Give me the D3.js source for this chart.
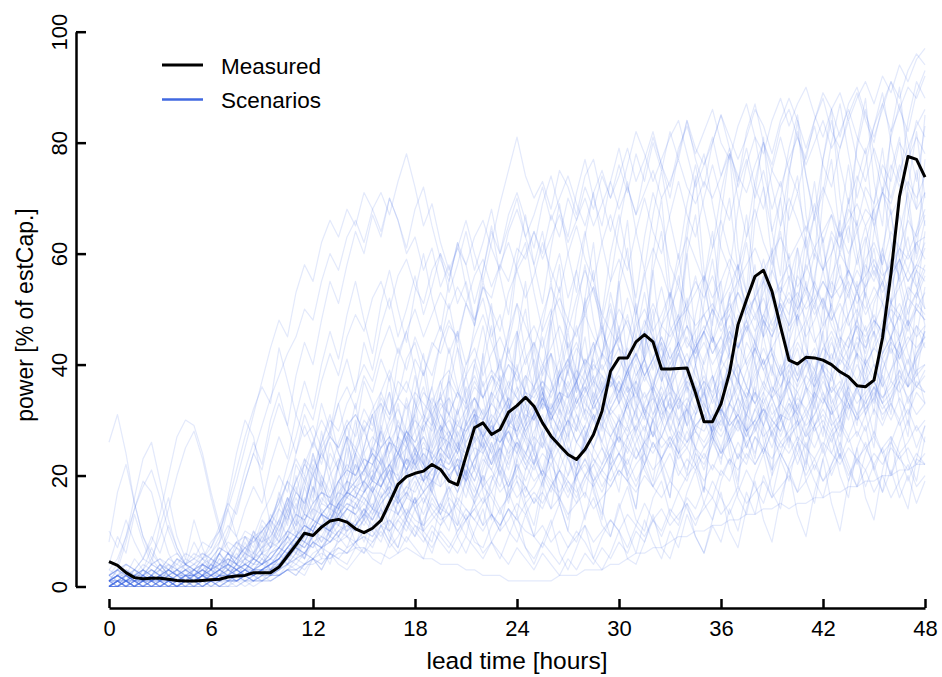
<!DOCTYPE html>
<html><head><meta charset="utf-8">
<script src="https://cdn.jsdelivr.net/npm/d3@7"></script>
<style>html,body{margin:0;padding:0;background:#fff;} svg{display:block;font-family:"Liberation Sans",Arial,Helvetica,sans-serif;}</style>
</head><body><svg id="chart" width="942" height="677"></svg>
<script>
const stepHours = 0.5;
const xTicks = [0, 6, 12, 18, 24, 30, 36, 42, 48];
const yTicks = [0, 20, 40, 60, 80, 100];
const xTitle = "lead time [hours]";
const yTitle = "power [% of estCap.]";
const legendLabels = ["Measured", "Scenarios"];

const measured = [
4.5,3.8,2.5,1.6,1.4,1.5,1.5,1.3,1.1,1.0,
1.0,1.1,1.2,1.3,1.7,1.9,2.0,2.5,2.5,2.5,
3.5,5.5,7.5,9.6,9.2,10.7,11.8,12.1,11.6,10.4,
9.7,10.5,11.9,15.1,18.4,19.8,20.4,20.8,22.0,21.1,
19.0,18.3,23.5,28.6,29.5,27.4,28.3,31.4,32.6,34.1,
32.5,29.5,27.1,25.4,23.8,22.9,24.7,27.4,31.6,38.8,
41.2,41.2,44.1,45.4,44.1,39.2,39.2,39.3,39.4,34.9,
29.7,29.7,32.9,38.5,47.2,51.7,55.9,57.0,53.2,46.9,
40.8,40.1,41.3,41.2,40.8,40.0,38.7,37.8,36.2,36.0,
37.2,44.8,56.5,70.3,77.5,77.0,73.8];

const scenarios = [
[1,2,1,0,1,1,2,1,0,1, 1,0,1,2,1,1,2,3,2,4, 5,7,6,9,11,8,10,14,12,15, 13,17,20,16,19,23,20,17,22,25, 23,20,26,29,24,28,31,26,24,29, 32,27,24,30,35,31,26,33,37,32, 35,39,33,30,36,41,37,32,38,43, 39,34,41,45,40,36,43,48,42,38, 44,49,43,39,46,51,45,41,48,53, 48,44,51,56,49,53,57],
[0,0,1,0,0,1,0,0,0,1, 0,0,1,0,0,1,1,0,1,1, 2,3,2,4,5,3,6,5,4,7, 6,8,10,7,9,12,10,8,11,9, 7,10,13,9,6,8,11,14,10,7, 5,8,6,4,7,10,8,5,9,12, 10,7,11,15,12,9,13,17,14,11, 15,19,16,13,17,21,18,15,20,24, 21,17,23,19,16,22,26,22,18,24, 28,24,20,26,30,25,29],
[2,3,2,1,2,3,2,1,2,3, 2,1,2,3,4,3,5,4,6,7, 10,13,17,15,20,24,21,26,30,27, 32,29,35,39,34,41,44,38,43,47, 42,46,40,45,49,44,39,46,51,47, 43,49,54,50,46,52,57,53,48,55, 59,54,49,56,61,57,52,58,63,59, 55,61,66,60,57,63,68,62,58,65, 70,66,61,67,72,68,63,69,74,70, 65,71,76,72,77,81,78],
[26,31,24,15,9,6,4,3,2,2, 2,1,1,0,1,2,1,2,3,5, 4,6,8,7,10,9,12,11,14,13, 16,14,18,21,17,20,23,19,24,22, 26,22,19,23,27,24,20,25,29,26, 22,27,31,28,24,29,34,30,26,32, 35,31,28,33,37,34,30,36,40,36, 32,37,41,38,34,39,43,39,35,40, 34,30,36,29,33,38,34,30,36,40, 37,33,39,44,38,42,46],
[0,1,2,1,0,1,2,3,2,1, 2,4,3,6,9,14,19,24,29,34, 38,42,45,50,48,55,60,57,63,66, 62,68,71,67,73,78,72,65,69,62, 57,61,66,60,55,62,69,75,81,74, 70,73,68,75,72,67,74,77,70,64, 70,76,82,78,73,77,81,84,78,72, 76,80,85,81,77,81,86,83,78,84, 88,84,79,84,89,86,81,87,90,85, 81,86,91,88,93,96,94],
[0,1,0,0,1,0,1,0,0,1, 1,0,1,1,2,1,2,1,2,3, 3,5,4,6,8,7,9,11,10,12, 14,12,15,17,13,16,19,15,18,21, 20,17,22,19,24,21,18,23,26,22, 25,21,27,24,20,26,29,25,22,27, 24,20,25,21,18,23,26,21,19,24, 22,26,23,27,30,25,29,32,27,24, 29,33,28,31,35,30,27,32,36,31, 34,38,33,37,41,36,39],
[1,2,1,2,1,1,2,1,1,2, 1,2,2,3,2,3,4,3,4,5, 7,9,12,10,14,17,15,19,22,20, 24,27,25,29,32,28,31,35,33,37, 39,35,40,43,38,42,45,41,39,44, 47,43,49,52,48,45,51,54,49,46, 50,47,43,48,45,41,46,49,44,42, 46,50,47,52,55,51,48,53,57,53, 56,52,58,54,51,56,60,57,53,59, 62,58,64,61,66,63,67],
[0,0,0,0,0,0,0,0,0,0, 0,0,0,0,0,0,1,1,1,2, 2,3,3,4,4,5,5,6,6,7, 7,6,6,5,6,7,6,5,5,4, 4,4,3,3,2,2,2,1,1,1, 1,1,1,2,2,2,3,3,3,4, 4,5,6,6,7,7,8,9,9,10, 10,11,11,12,12,13,13,14,14,15, 14,15,15,16,16,17,17,18,18,19, 19,20,20,21,21,22,22],
[3,2,4,3,2,4,5,3,2,3, 4,3,5,4,6,5,7,6,8,9, 12,15,19,22,20,24,27,25,29,31, 28,32,35,31,34,37,33,30,34,31, 28,25,29,32,27,24,28,31,27,30, 33,36,32,38,41,37,40,44,39,42, 45,41,47,50,46,49,53,48,51,55, 52,56,51,54,58,53,49,52,47,50, 46,49,45,48,52,47,44,49,53,50, 54,51,56,59,55,58,62],
[0,0,1,0,0,0,1,0,1,0, 1,1,0,1,2,1,2,1,2,2, 3,4,6,5,8,7,10,9,12,11, 14,12,16,18,15,17,20,17,19,22, 21,24,20,23,26,22,25,28,24,21, 24,20,17,21,18,15,19,22,18,21, 24,27,23,26,30,27,31,34,29,32, 35,31,29,33,37,34,38,41,36,33, 37,40,36,39,35,32,36,33,30,34, 37,33,30,34,31,35,33],
[2,1,2,3,2,1,2,1,2,3, 2,3,2,3,4,3,4,5,4,6, 7,6,9,11,10,13,12,15,17,16, 19,22,20,24,27,25,28,31,29,33, 31,35,32,36,34,38,35,32,36,33, 30,34,31,28,32,29,26,30,33,29, 26,29,25,22,26,23,27,24,21,25, 23,27,24,28,31,27,30,34,30,28, 32,35,31,34,38,33,36,40,37,41, 38,42,45,41,44,47,45],
[1,0,1,1,2,1,0,1,1,2, 1,2,1,2,2,3,2,3,3,4, 5,6,8,7,9,11,10,13,15,14, 17,20,18,22,25,21,24,22,19,23, 20,17,21,18,15,19,22,18,21,24, 22,26,23,27,30,26,24,28,31,27, 30,34,31,28,33,36,32,35,38,34, 37,33,36,40,37,34,39,43,39,36, 40,44,41,38,43,46,42,45,48,44, 47,51,48,45,50,53,50],
[2,4,9,16,23,26,19,12,7,4, 3,2,3,4,3,2,3,4,4,5, 7,9,11,13,12,15,14,17,19,18, 21,19,23,26,24,27,25,22,26,29, 27,30,26,29,32,28,31,34,30,33, 36,32,35,39,34,37,41,37,40,36, 39,43,38,41,45,41,44,48,43,46, 49,45,42,46,43,47,44,40,43,39, 42,38,41,37,40,44,40,43,47,43, 46,42,45,49,46,50,48],
[0,0,0,1,0,0,0,1,0,0, 0,1,0,1,1,0,1,1,2,1, 2,3,2,4,5,4,6,5,7,8, 9,8,11,10,12,14,12,11,13,15, 13,16,14,12,15,17,14,16,19,16, 18,21,19,17,20,23,20,22,25,22, 24,22,26,29,25,27,31,27,25,29, 28,31,28,33,30,27,32,35,31,33, 36,32,35,38,34,31,35,38,35,37, 40,36,39,42,38,41,44],
[1,2,1,2,3,2,1,2,3,2, 3,2,3,4,5,4,6,5,7,8, 11,15,19,23,21,26,30,28,33,36, 40,37,43,47,42,46,50,45,49,53, 50,54,51,56,59,54,58,62,57,60, 64,59,63,67,62,66,70,65,69,73, 68,72,67,71,75,70,73,77,72,69, 73,70,74,78,74,71,76,80,75,72, 77,81,76,80,84,79,82,86,81,78, 83,87,82,86,90,88,92],
[0,1,0,1,0,1,1,0,1,1, 1,2,1,2,2,3,2,3,3,4, 6,8,10,9,12,11,13,12,14,16, 15,18,16,19,17,20,22,19,21,24, 22,25,23,27,25,28,26,29,31,28, 31,34,30,33,36,32,35,38,34,37, 35,39,42,38,41,45,41,44,40,43, 46,42,45,41,44,40,43,39,42,38, 41,37,40,36,39,35,37,33,36,32, 34,31,33,29,32,28,30],
[1,1,2,1,1,2,1,1,1,2, 1,2,2,1,2,2,3,2,3,3, 4,5,7,6,8,7,9,8,10,11, 13,15,12,14,16,13,15,17,14,12, 13,11,14,12,10,13,11,14,12,15, 17,15,18,21,19,16,20,23,20,18, 21,19,17,20,18,16,19,17,20,22, 19,22,20,23,21,24,22,25,23,26, 24,27,25,23,26,24,22,25,23,21, 24,22,25,23,21,24,22],
[2,3,4,3,5,4,3,5,6,4, 5,6,5,7,6,8,7,9,10,12, 15,19,17,22,26,23,27,25,29,31, 28,31,33,30,34,32,35,33,31,34, 37,34,38,41,36,39,37,40,38,35, 32,29,33,30,27,31,28,25,29,27, 30,28,32,35,31,34,37,33,36,34, 37,35,39,42,38,41,44,40,43,46, 42,45,48,44,47,50,46,49,53,49, 52,55,51,54,57,54,58],
[0,1,0,0,1,1,0,1,0,1, 1,1,2,1,2,2,1,2,3,2, 3,5,7,6,9,11,10,13,15,14, 17,19,18,21,24,22,25,27,24,28, 30,27,31,34,30,33,36,32,35,38, 36,39,42,38,41,44,40,43,46,42, 45,48,44,47,51,47,50,54,50,53, 56,52,55,59,55,58,61,57,60,63, 59,62,65,61,64,67,63,66,69,65, 68,71,67,70,73,70,74],
[1,2,1,1,2,1,2,2,1,2, 2,3,2,3,4,3,4,3,4,5, 6,8,7,10,12,11,14,13,16,18, 17,20,22,19,23,25,22,24,21,23, 20,22,19,21,18,20,17,19,16,18, 15,17,14,16,13,15,17,14,16,18, 21,19,22,24,21,23,26,23,25,22, 25,27,24,26,29,26,28,31,28,30, 27,29,32,29,31,28,30,33,30,32, 35,32,34,37,34,36,38],
[1,2,1,2,3,2,1,2,3,4, 5,4,6,9,16,24,30,27,19,11, 8,12,16,13,18,15,20,23,19,24, 21,25,28,24,30,26,22,28,33,29, 25,31,36,30,27,34,38,33,29,36, 41,35,31,38,44,39,35,42,47,41, 46,52,45,41,48,54,47,43,50,56, 49,44,51,57,50,46,53,59,52,48, 55,61,54,50,57,63,56,52,59,65, 58,54,61,67,60,64,68],
[0,0,0,0,1,0,0,0,0,0, 0,0,1,0,1,1,0,1,1,1, 2,3,5,4,6,7,6,8,9,8, 10,9,11,12,10,13,11,10,12,14, 13,15,12,14,16,13,11,14,12,10, 9,11,8,10,7,9,11,8,10,12, 10,13,11,9,12,14,11,13,15,12, 14,16,13,15,18,15,17,19,16,18, 20,17,19,22,19,21,24,20,23,25, 22,25,27,24,26,29,26],
[1,2,1,2,2,1,2,3,2,3, 2,3,4,3,5,4,6,5,7,9, 12,16,14,19,23,20,17,22,27,24, 28,24,31,35,29,26,32,36,30,27, 23,28,25,21,27,30,24,29,33,27, 31,36,30,34,39,33,37,41,35,31, 28,33,37,31,27,32,36,30,26,31, 35,29,25,30,34,28,24,29,33,27, 31,26,30,35,29,24,28,33,27,31, 36,30,34,39,33,37,35],
[0,1,0,1,1,0,1,0,1,1, 1,2,1,2,1,2,3,2,3,4, 5,7,9,8,11,13,12,15,17,19, 21,24,22,26,29,27,30,28,32,34, 31,35,33,37,34,38,36,40,37,41, 44,40,43,47,43,46,49,45,42,46, 43,39,42,38,41,37,40,44,40,43, 46,42,45,49,45,48,52,48,45,49, 52,48,51,55,51,48,52,55,51,54, 57,53,56,59,55,58,57],
[2,3,2,1,2,3,2,3,2,3, 3,4,3,4,5,4,5,6,5,7, 8,10,9,12,14,13,15,17,16,18, 19,17,20,22,19,21,24,21,23,26, 28,25,29,32,28,31,29,26,30,27, 25,28,24,27,30,26,29,33,30,34, 37,34,38,41,37,40,36,39,42,38, 35,38,34,37,40,36,33,37,34,36, 39,36,40,43,39,42,38,41,44,40, 43,46,42,45,48,45,47],
[0,0,1,0,0,0,1,0,0,1, 0,1,1,0,1,1,2,1,2,2, 2,3,3,4,5,4,6,7,6,8, 10,9,12,14,13,16,15,17,19,18, 20,22,19,23,25,22,26,28,25,29, 31,28,32,35,31,34,37,33,36,39, 35,39,42,38,41,45,41,44,47,43, 46,50,46,49,53,49,52,56,52,55, 58,54,57,61,57,60,64,60,64,68, 66,71,69,75,79,83,86],
[1,2,3,2,1,2,3,2,3,4, 3,4,5,4,6,5,7,8,10,12, 15,19,23,20,26,30,27,33,36,32, 38,35,41,37,43,39,45,41,38,44, 48,44,51,47,54,50,46,53,57,52, 56,62,57,53,60,65,59,55,62,67, 61,57,64,70,64,60,67,73,67,63, 70,76,70,66,73,79,72,68,75,81, 75,71,78,83,76,72,79,84,77,73, 79,74,70,76,72,68,71],
[0,1,1,0,1,1,0,1,1,0, 1,1,2,1,2,2,3,2,3,3, 4,6,8,7,9,11,10,12,14,13, 15,13,16,18,15,17,14,16,13,11, 13,10,12,14,11,13,10,12,15,13, 16,14,18,21,17,20,23,19,22,25, 27,24,28,31,27,30,26,29,32,28, 25,28,24,27,23,26,22,25,21,24, 21,24,20,23,19,22,25,21,18,21, 17,20,16,19,22,18,20],
[1,1,2,3,5,8,13,20,27,30, 29,24,17,11,7,5,4,3,3,4, 5,7,9,11,10,13,15,14,17,16, 19,17,20,22,19,23,21,24,22,25, 23,26,24,28,25,29,27,30,28,32, 30,33,31,35,32,36,34,37,35,38, 36,33,35,32,34,31,33,30,32,29, 31,28,30,33,31,35,33,36,34,38, 40,37,41,39,43,41,45,43,47,45, 48,46,50,48,52,50,53],
[1,1,0,1,1,2,1,1,2,1, 1,2,1,2,2,1,2,2,3,2, 3,4,5,6,5,7,8,10,9,11, 13,12,15,17,16,18,20,19,21,23, 22,25,24,26,28,25,27,24,26,23, 21,24,22,25,23,20,22,19,21,24, 27,25,29,32,30,33,31,34,32,35, 33,30,32,29,31,28,30,27,29,26, 28,30,27,29,32,29,31,34,31,33, 36,33,35,38,36,39,40],
[0,1,1,0,1,1,2,1,1,2, 2,1,2,3,2,3,4,3,4,5, 7,10,13,12,15,17,16,19,21,20, 23,22,25,27,24,28,26,29,31,28, 31,29,32,34,31,35,33,36,34,32, 35,37,34,38,40,37,41,39,42,40, 43,41,44,46,43,47,45,48,50,47, 49,51,48,50,53,50,52,55,52,54, 51,53,50,52,55,52,54,57,54,56, 59,56,58,61,59,62,63],
[1,0,1,1,0,1,1,2,1,1, 2,1,2,2,3,2,3,3,2,3, 4,5,7,6,8,9,8,10,11,10, 12,10,14,11,15,12,16,13,17,14, 18,15,19,16,20,17,21,18,22,19, 23,20,24,21,25,22,26,23,21,24, 20,23,19,22,18,21,24,20,23,21, 24,21,25,22,26,23,27,24,28,25, 27,24,28,25,29,26,30,27,31,28, 32,29,33,30,34,31,33],
[2,3,4,3,2,4,5,4,3,5, 4,6,5,7,6,8,9,8,10,12, 16,22,27,33,30,37,42,38,45,49, 46,52,55,50,56,59,54,51,57,60, 56,61,58,63,66,61,57,64,68,63, 67,72,66,70,74,69,65,71,75,70, 74,79,73,77,82,76,72,79,83,78, 82,86,80,77,83,87,81,78,84,88, 83,87,90,85,81,86,89,84,88,91, 87,92,89,94,91,95,97],
[0,1,0,1,0,0,1,1,0,1, 1,2,1,2,3,2,3,2,3,4, 4,6,7,9,11,10,13,15,17,16, 19,21,18,22,24,21,23,26,23,25, 27,24,28,30,27,29,26,28,25,22, 19,21,18,16,19,17,20,18,21,19, 22,25,23,26,24,27,25,28,26,29, 31,28,32,30,34,31,35,33,36,34, 37,35,38,36,40,38,41,39,42,40, 43,41,44,42,45,43,45],
[1,1,2,1,1,2,1,2,1,2, 2,2,3,2,3,3,2,3,4,3, 5,7,9,11,10,13,12,14,16,15, 17,19,18,21,20,23,22,25,24,27, 26,29,28,31,30,33,31,34,32,35, 34,37,35,38,36,39,37,40,38,36, 38,35,37,34,36,33,35,32,34,31, 33,30,32,29,31,28,30,32,29,31, 30,32,29,31,34,31,33,36,33,35, 37,34,36,39,36,38,40],
[0,0,0,1,0,0,0,0,1,0, 0,1,0,1,1,1,2,1,1,2, 2,3,4,3,5,6,5,7,6,8, 9,7,11,8,12,10,14,11,16,13, 17,20,16,22,19,23,25,21,27,24, 28,31,26,32,29,34,30,35,32,37, 33,38,35,40,36,41,37,42,39,44, 40,45,41,46,43,48,44,49,46,51, 47,52,48,54,50,55,52,57,53,58, 55,60,56,61,57,62,59],
[1,2,1,2,2,3,2,3,4,3, 4,5,7,10,15,21,27,32,36,33, 43,37,31,27,29,25,28,24,21,25, 22,19,23,20,24,21,25,22,20,23, 26,24,28,31,27,30,33,29,32,28, 31,34,30,33,37,33,36,32,35,38, 35,38,41,37,40,43,39,42,45,41, 44,40,43,47,43,46,49,45,48,51, 47,50,53,49,52,48,51,47,50,46, 49,45,48,51,47,50,48],
[0,1,1,0,1,0,1,1,0,1, 1,2,1,2,2,3,2,3,3,4, 5,7,9,8,11,13,15,14,17,19, 21,24,22,26,25,28,24,27,23,21, 24,20,22,19,23,21,25,22,26,24, 27,25,29,26,30,28,32,30,34,31, 33,36,34,38,35,39,36,34,37,35, 38,34,37,33,36,32,35,31,34,30, 33,29,31,28,30,27,29,26,28,25, 27,24,26,23,25,22,24],
[1,2,1,1,2,1,2,1,2,2, 2,3,2,3,4,3,4,5,4,6, 8,10,13,12,15,17,16,19,21,20, 23,22,25,27,24,28,26,30,28,32, 34,31,35,38,34,37,40,36,39,35, 32,35,31,34,30,33,36,32,35,38, 41,38,42,45,41,44,40,43,47,44, 47,44,48,51,47,50,46,49,53,50, 53,50,54,51,55,52,56,53,57,54, 58,55,59,56,60,57,61],
[0,0,1,0,1,0,0,1,0,1, 1,0,1,1,2,1,2,2,1,2, 3,4,5,6,5,7,8,9,11,10, 12,14,13,16,15,18,17,20,19,22, 21,23,22,25,24,27,26,29,28,31, 30,33,32,35,34,37,33,31,29,32, 30,27,29,26,28,25,27,24,26,28, 26,29,27,30,28,31,29,32,30,33, 31,34,32,35,33,36,34,32,35,33, 36,34,37,35,38,36,35],
[0,1,3,1,0,2,4,2,1,1, 2,4,3,6,3,5,9,7,12,10, 17,13,22,19,15,26,31,24,20,28, 37,33,26,30,41,46,39,31,36,44, 51,43,38,47,55,49,40,45,58,62, 53,46,50,41,48,57,64,55,49,60, 67,59,52,63,71,66,58,54,65,73, 78,69,61,57,68,76,81,72,64,70, 79,85,74,66,71,80,87,78,70,76, 83,89,80,73,84,91,88],
[2,1,0,2,1,3,2,1,0,1, 1,2,4,2,5,3,2,6,9,7, 11,16,9,14,21,13,10,18,25,17, 12,20,29,23,15,26,34,22,17,28, 38,27,19,31,42,30,23,35,46,33, 26,39,48,35,28,41,52,37,30,44, 55,40,32,46,57,43,34,49,60,45, 36,27,41,53,38,30,45,56,42,33, 48,61,44,35,51,39,29,43,55,40, 31,47,59,44,36,52,64],
[0,0,1,0,2,1,0,1,3,1, 0,2,1,0,1,3,2,4,6,3, 5,9,6,12,8,5,11,15,9,7, 13,18,11,8,16,21,14,10,19,24, 15,11,20,27,17,12,23,30,19,14, 9,17,25,15,10,21,28,18,12,24, 31,20,14,27,35,22,16,29,37,24, 17,30,39,26,19,33,41,28,21,35, 44,30,23,37,46,32,25,40,49,34, 27,42,52,36,29,45,54],
[3,5,9,14,18,21,16,10,6,4, 2,3,1,2,4,2,3,5,4,7, 9,14,11,18,24,19,15,22,29,23, 18,26,33,27,21,30,38,31,25,35, 43,36,29,40,47,39,32,44,51,42, 35,47,55,45,38,50,58,48,41,53, 46,38,49,57,46,39,52,60,49,42, 55,64,52,44,57,67,55,47,60,70, 58,50,63,73,61,53,66,76,64,56, 69,79,67,59,72,82,70],
[1,2,1,3,2,4,3,5,4,6, 5,8,7,11,15,13,19,24,21,28, 33,29,38,44,40,48,55,51,58,64, 60,67,63,70,66,61,68,72,65,59, 55,62,58,51,57,64,60,67,71,66, 61,69,74,68,63,71,77,70,65,73, 79,72,67,75,81,76,70,78,84,77, 72,80,85,79,73,82,87,80,76,83, 86,81,77,84,88,82,79,85,89,84, 80,87,91,86,82,89,93],
[1,2,3,2,1,2,3,4,3,2, 3,2,4,6,10,15,21,26,22,30, 35,29,24,31,27,22,28,33,26,21, 25,31,24,19,27,34,28,22,30,37, 31,25,33,40,34,27,36,43,36,29, 38,45,37,31,40,47,39,33,42,50, 43,35,45,53,44,37,48,56,47,40, 51,59,49,42,54,62,52,45,57,64, 55,47,59,67,57,50,61,70,60,52, 64,72,62,55,67,75,65],
[0,1,0,2,1,0,1,2,1,0, 2,1,3,1,2,4,2,3,5,3, 6,4,8,5,10,7,4,9,12,8, 6,11,14,9,7,13,16,10,8,15, 18,12,9,16,20,13,10,18,22,15, 11,19,24,16,12,21,26,17,13,23, 28,19,14,25,30,21,16,27,32,22, 17,29,34,24,18,31,36,26,20,33, 38,27,21,35,40,29,23,37,42,31, 25,39,44,33,27,41,46],
[0,1,1,0,2,1,1,3,2,1, 2,3,2,4,3,5,7,5,9,12, 10,14,18,13,22,17,26,21,16,24, 29,23,19,27,33,26,21,30,36,28, 24,32,38,31,25,35,41,33,27,37, 43,35,29,39,46,37,31,42,48,39, 33,44,51,41,35,47,53,43,38,49, 56,45,40,52,58,48,42,55,61,50, 44,57,63,52,47,60,66,54,49,62, 68,57,51,64,71,59,66],
[8,17,22,15,9,5,3,2,1,2, 1,0,1,2,1,1,2,1,3,2, 4,6,5,8,7,11,9,13,10,15, 12,17,14,19,16,13,18,21,17,14, 19,23,18,15,21,25,20,16,23,27, 22,18,25,29,23,19,27,31,25,21, 29,33,27,22,31,35,28,24,33,37, 30,26,35,39,32,28,37,41,34,30, 39,43,36,32,41,45,38,34,43,47, 40,36,45,49,42,38,47],
[1,0,2,1,3,1,2,4,2,1, 3,2,5,3,6,4,9,6,11,8, 14,19,12,23,17,28,21,15,26,33, 24,19,30,38,27,22,35,42,31,25, 38,46,34,28,42,51,37,30,45,55, 40,33,49,58,43,36,52,62,47,39, 56,66,50,42,60,70,54,46,63,74, 57,49,67,78,61,53,71,81,64,56, 74,84,67,59,77,86,70,62,80,88, 73,65,82,90,76,68,85],
[0,0,1,0,0,1,0,1,0,0, 1,0,1,1,0,2,1,2,1,3, 2,4,3,2,5,3,6,4,3,5, 7,5,4,8,6,9,7,5,10,8, 6,9,12,8,7,11,14,10,8,13, 9,7,11,15,10,8,13,16,11,9, 14,18,12,10,16,19,13,11,17,21, 15,12,19,23,16,13,20,24,17,14, 22,26,19,15,23,27,20,16,25,29, 21,17,26,30,23,19,27],
[1,2,1,2,3,2,1,3,2,4, 3,5,4,6,8,7,10,9,13,16, 20,17,24,29,25,33,28,36,41,35, 44,39,47,52,45,50,56,49,54,60, 53,58,64,57,62,68,60,65,70,63, 58,64,55,60,52,57,49,54,46,51, 44,49,41,46,39,44,37,42,35,40, 33,38,31,36,29,34,28,33,27,31, 26,30,25,29,24,28,23,27,22,26, 21,25,20,24,19,23,22],
[10,7,12,8,5,9,6,11,7,4, 8,5,3,6,4,7,5,9,6,10, 8,13,10,16,12,19,15,11,17,22, 18,14,21,26,20,16,24,29,23,18, 27,32,25,21,30,35,28,23,33,38, 31,25,36,41,34,28,39,44,36,30, 26,34,40,32,27,37,43,35,29,40, 46,38,31,43,49,40,34,46,52,43, 36,49,55,45,39,52,58,48,41,55, 61,51,44,58,63,54,47],
[0,1,0,0,1,2,1,0,1,1, 2,1,2,3,2,4,3,5,4,6, 7,9,8,11,10,13,12,15,14,17, 16,14,18,16,13,17,15,19,17,21, 19,23,20,17,22,26,22,19,24,28, 24,20,26,30,25,21,27,31,26,23, 29,33,28,24,30,34,29,26,31,36, 32,28,35,40,37,44,41,48,45,52, 49,56,53,60,57,64,61,68,65,72, 69,76,73,80,77,84,81],
[2,3,1,2,4,3,2,3,5,4, 3,5,6,8,11,9,14,18,15,22, 27,23,31,37,32,40,46,41,49,55, 48,42,51,57,50,44,53,60,52,46, 55,62,54,47,57,65,56,49,59,67, 58,51,61,69,60,53,63,71,62,55, 65,73,64,57,67,75,66,59,69,76, 68,61,71,78,70,63,73,80,72,65, 75,82,74,67,77,84,76,69,79,86, 78,71,81,87,80,73,83],
[0,0,1,0,1,0,0,1,0,1, 0,1,1,2,1,2,3,2,3,4, 5,4,6,8,7,9,8,10,12,11, 13,11,9,12,10,8,11,9,7,10, 8,6,9,7,5,8,6,4,7,5, 3,6,4,2,5,3,6,4,7,5, 8,6,10,8,12,10,14,12,16,14, 18,16,21,19,24,22,27,25,30,28, 33,31,36,34,39,37,42,40,45,43, 48,46,51,49,54,52,56],
[1,0,1,2,3,5,9,14,20,25, 28,23,16,10,6,4,3,2,3,4, 5,7,9,8,11,14,12,16,19,17, 21,24,20,17,23,27,22,19,25,29, 24,20,27,31,26,22,29,33,27,23, 31,35,29,25,33,37,31,27,35,39, 33,29,37,41,35,30,39,43,36,32, 41,45,38,34,43,47,40,36,45,49, 42,38,47,51,44,40,49,53,46,42, 51,55,48,44,53,57,50],
[0,2,1,3,1,2,4,2,1,3, 2,4,3,6,4,8,6,10,8,13, 11,16,13,20,16,25,19,14,23,30, 22,17,28,35,26,20,32,39,30,23, 36,43,33,26,40,47,36,29,44,50, 39,32,47,54,42,35,50,57,45,38, 54,61,48,41,57,64,51,44,60,67, 54,47,63,70,57,50,66,72,59,52, 68,74,61,54,70,77,63,56,73,79, 65,58,75,81,68,60,77],
[1,0,2,1,0,1,3,1,0,2, 1,3,2,1,3,2,4,3,5,4, 6,9,7,5,10,8,12,9,7,11, 14,10,8,13,17,12,9,15,19,13, 10,17,21,15,11,19,24,17,13,21, 26,19,14,23,28,20,16,25,30,22, 17,27,32,24,19,29,34,25,20,31, 36,27,22,33,38,29,23,35,40,31, 25,37,42,33,27,39,44,35,29,41, 46,37,31,43,48,39,33],
[1,2,2,1,3,2,4,3,5,4, 6,5,8,10,14,19,25,31,37,43, 48,45,53,58,55,62,66,63,68,65, 71,68,64,70,66,60,63,57,61,54, 58,51,55,48,52,45,49,42,46,40, 44,38,42,36,41,35,39,34,38,33, 37,32,36,31,35,30,34,29,33,28, 32,27,31,26,30,25,29,24,28,23, 27,22,26,21,25,20,24,19,23,18, 22,17,21,16,20,15,19],
[0,1,0,1,2,1,0,1,2,1, 3,2,4,3,6,4,8,5,10,7, 12,9,15,11,18,13,9,14,19,12, 8,13,17,10,7,12,16,9,6,11, 15,9,6,10,14,8,5,9,13,7, 4,8,12,6,3,7,11,5,3,6, 10,5,4,8,13,7,5,10,15,9, 6,12,17,10,7,14,19,12,8,16, 21,13,9,17,23,15,10,19,25,16, 12,21,27,18,14,23,29],
[1,3,2,5,3,7,4,2,5,3, 1,4,2,5,3,6,4,9,7,12, 16,11,20,14,24,18,13,22,27,19, 25,31,22,17,27,33,24,19,29,35, 26,20,30,24,18,26,21,15,23,17, 22,28,20,15,24,18,12,19,14,9, 15,10,6,12,8,5,10,7,13,9, 6,11,8,14,10,17,13,20,16,23, 19,26,22,29,25,32,28,35,31,38, 34,41,37,44,40,47,43],
[4,9,6,13,8,4,11,16,9,5, 12,7,3,8,14,9,5,10,6,12, 9,15,11,18,13,20,16,12,19,24, 17,22,28,21,16,25,31,23,18,27, 34,26,20,30,37,28,22,33,40,30, 24,35,42,32,26,38,45,34,28,40, 47,36,30,43,50,38,32,45,52,40, 34,48,55,42,36,51,58,45,38,53, 60,47,40,56,63,49,43,59,66,52, 45,61,68,54,47,64,71],
[0,1,2,1,1,2,1,2,3,2, 3,4,3,5,4,7,6,9,8,11, 14,12,17,15,20,18,24,21,27,25, 30,28,34,31,37,35,41,38,44,42, 47,45,51,48,54,52,58,55,61,59, 64,60,67,63,70,66,72,68,74,70, 76,71,78,73,80,75,82,77,84,79, 76,81,74,79,72,77,70,75,68,73, 66,71,64,69,62,67,60,65,58,63, 56,61,54,59,52,57,55],
[0,0,1,0,0,1,1,0,1,2, 1,2,3,2,4,3,5,4,6,5, 7,6,8,10,9,11,10,12,14,13, 11,14,12,10,13,11,9,12,15,13, 16,14,12,15,18,16,13,17,20,18, 15,19,22,19,16,20,23,20,17,21, 24,21,18,22,26,23,19,24,28,25, 21,26,30,27,23,28,32,29,25,30, 34,31,27,33,37,34,30,36,40,37, 33,39,43,40,36,42,45],
[1,3,8,14,19,17,11,6,3,2, 1,2,1,3,2,4,3,5,6,8, 7,10,9,13,12,16,14,19,17,22, 20,25,23,19,24,28,25,21,27,31, 28,24,30,34,31,27,33,37,34,30, 36,40,37,33,39,43,40,36,42,38, 34,39,35,31,36,32,28,33,29,25, 30,34,31,27,32,36,33,29,35,39, 36,32,38,42,39,35,41,45,42,38, 44,48,45,41,47,51,49]
];

const svg = d3.select("#chart");
const x = d3.scaleLinear().domain([0, 48]).range([109, 925]);
const y = d3.scaleLinear().domain([0, 100]).range([586.5, 31.7]);
const line = d3.line().x((d, i) => x(i * stepHours)).y(d => y(d));

svg.append("g").selectAll("path").data(scenarios).join("path")
  .attr("d", line).attr("fill", "none").attr("stroke", "#4169E1")
  .attr("stroke-opacity", 0.15).attr("stroke-width", 1.2).attr("stroke-linejoin", "round");

svg.append("path").datum(measured).attr("d", line).attr("fill", "none")
  .attr("stroke", "#000").attr("stroke-width", 3).attr("stroke-linejoin", "round");

// x axis
const gx = svg.append("g").attr("transform", "translate(0,608)")
  .call(d3.axisBottom(x).tickValues(xTicks).tickSizeInner(-9).tickSizeOuter(0));
gx.attr("font-size", null).attr("font-family", null);
gx.select(".domain").attr("stroke", "#000").attr("stroke-width", 2.5);
gx.selectAll(".tick line").attr("stroke", "#000").attr("stroke-width", 2.5);
gx.selectAll(".tick text").attr("y", 28).attr("dy", null).attr("font-size", 22).attr("fill", "#000");

// y axis
const gy = svg.append("g").attr("transform", "translate(76,0)")
  .call(d3.axisLeft(y).tickValues(yTicks).tickSizeInner(-10).tickSizeOuter(0));
gy.attr("font-size", null).attr("font-family", null);
gy.select(".domain").attr("stroke", "#000").attr("stroke-width", 2.5);
gy.selectAll(".tick line").attr("stroke", "#000").attr("stroke-width", 2.5);
gy.selectAll(".tick text").attr("x", 0).attr("dy", null)
  .attr("transform", "translate(-9,0) rotate(-90)").attr("text-anchor", "middle")
  .attr("font-size", 22).attr("fill", "#000");

// titles
svg.append("text").attr("x", 517).attr("y", 669).attr("text-anchor", "middle")
  .attr("font-size", 24.5).attr("fill", "#000").text(xTitle);
svg.append("text").attr("transform", "translate(33,315) rotate(-90)").attr("text-anchor", "middle")
  .attr("font-size", 23).attr("fill", "#000").text(yTitle);

// legend
const legendColors = ["#000", "#4169E1"];
const lg = svg.append("g");
legendLabels.forEach((lab, i) => {
  const yy = 65 + i * 34.5;
  lg.append("line").attr("x1", 162).attr("x2", 203).attr("y1", yy).attr("y2", yy)
    .attr("stroke", legendColors[i]).attr("stroke-width", i === 0 ? 3 : 2.5);
  lg.append("text").attr("x", 221).attr("y", yy + 8.5).attr("font-size", 22.5)
    .attr("fill", "#000").text(lab);
});
</script></body></html>
